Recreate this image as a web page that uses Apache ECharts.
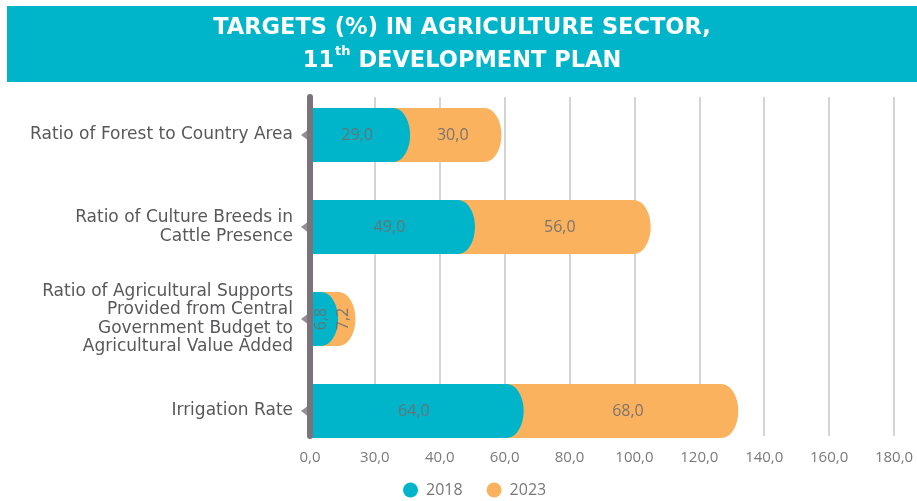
<!DOCTYPE html>
<html>
<head>
<meta charset="utf-8">
<script src="https://cdn.jsdelivr.net/npm/echarts@6/dist/echarts.min.js"></script>
<style>
html,body{margin:0;padding:0;background:#fff;}
#chart{width:917px;height:501px;}
</style>
</head>
<body>
<div id="chart"></div>
<script>
const categories = [
  'Ratio of Forest to Country Area',
  'Ratio of Culture Breeds in\nCattle Presence',
  'Ratio of Agricultural Supports\nProvided from Central\nGovernment Budget to\nAgricultural Value Added',
  'Irrigation Rate'
];
const values2018 = [29.0, 49.0, 6.8, 64.0];
const values2023 = [30.0, 56.0, 7.2, 68.0];
const seriesNames = ['2018', '2023'];
const xTickLabels = ['0,0', '30,0', '40,0', '60,0', '80,0', '100,0', '120,0', '140,0', '160,0', '180,0'];

const TEAL = '#00b5c9';
const ORANGE = '#fab25f';
const AXIS_GRAY = '#7a737b';
const BAR_RATIO = 0.587;
const CAP = 17;
const TEAL_EXT = 6;

function fmt(v) { return v.toFixed(1).replace('.', ','); }

// bar with a half-ellipse right end, clipped at the axis start
function capShape(x0, x1, cy, h, color, z2) {
  const cx = Math.max(x0, x1 - CAP);
  const rx = Math.max(1, x1 - cx);
  const ry = h / 2;
  const pts = [[x0, cy + ry], [x0, cy - ry]];
  const N = 24;
  for (let k = 0; k <= N; k++) {
    const t = -Math.PI / 2 + Math.PI * k / N;
    pts.push([cx + rx * Math.cos(t), cy + ry * Math.sin(t)]);
  }
  return [{ type: 'polygon', z2: z2, shape: { points: pts }, style: { fill: color } }];
}

function labelEl(x0, x1, cy, v) {
  const narrow = (x1 - x0) < 40;
  return {
    type: 'text', z2: 100,
    x: (x0 + x1) / 2, y: cy,
    rotation: narrow ? Math.PI / 2 : 0,
    style: {
      text: fmt(v), fill: '#6e6e6e', opacity: 0.9,
      fontFamily: 'Open Sans', fontSize: 16,
      align: 'center', verticalAlign: 'middle'
    }
  };
}

const barData = categories.map((c, i) => [values2018[i], i, values2023[i]]);

function renderOrange(params, api) {
  const a = api.value(0), i = api.value(1), b = api.value(2);
  const p0 = api.coord([0, i]);
  const pA = api.coord([a, i]);
  const pT = api.coord([a + b, i]);
  const h = api.size([0, 1])[1] * BAR_RATIO;
  return { type: 'group', children: capShape(p0[0], pT[0], p0[1], h, ORANGE, 0).concat([labelEl(pA[0], pT[0], p0[1], b)]) };
}
function renderTeal(params, api) {
  const a = api.value(0), i = api.value(1);
  const p0 = api.coord([0, i]);
  const pA = api.coord([a, i]);
  const h = api.size([0, 1])[1] * BAR_RATIO;
  return { type: 'group', children: capShape(p0[0], pA[0] + TEAL_EXT, p0[1], h, TEAL, 10).concat([labelEl(p0[0], pA[0], p0[1], a)]) };
}

const chart = echarts.init(document.getElementById('chart'), null, { renderer: 'canvas' });
chart.setOption({
  animation: false,
  backgroundColor: '#fff',
  graphic: [{
    type: 'rect', left: 7, top: 6, z: -10,
    shape: { width: 910, height: 76 },
    style: { fill: '#00b5c9' }
  }],
  title: {
    left: 462, top: 12, textAlign: 'center', padding: 0,
    text: '{b|TARGETS (%) IN AGRICULTURE SECTOR,}\n{b|11}{s|th}{b| DEVELOPMENT PLAN}',
    textStyle: {
      rich: {
        b: { color: '#fff', fontFamily: 'DejaVu Sans', fontWeight: 'bold', fontSize: 22.5, lineHeight: 33 },
        s: { color: '#fff', fontFamily: 'DejaVu Sans', fontWeight: 'bold', fontSize: 13, lineHeight: 33, verticalAlign: 'top', padding: [0, 0, 7, 1] }
      }
    }
  },
  legend: {
    data: seriesNames, left: 403, top: 482, padding: 0,
    icon: 'circle', itemWidth: 15, itemHeight: 15, itemGap: 24,
    textStyle: { color: '#777', fontFamily: 'Open Sans', fontSize: 16, padding: [0, 0, 0, 3] }
  },
  grid: [
    { left: 310, right: 23, top: 89, bottom: 44 },
    { left: 310, right: 23, top: 97, bottom: 65 }
  ],
  xAxis: [
    { gridIndex: 0, type: 'value', min: 0, max: 180, interval: 20, show: false },
    {
      gridIndex: 1, type: 'value', min: 0, max: 180, interval: 20,
      axisLine: { show: false }, axisTick: { show: false },
      splitLine: { show: true, lineStyle: { color: '#d4d4d4', width: 2 } },
      axisLabel: {
        margin: 14, color: '#7a7a7a', fontFamily: 'Open Sans', fontSize: 15,
        formatter: (v, idx) => xTickLabels[idx]
      }
    }
  ],
  yAxis: [
    {
      gridIndex: 0, type: 'category', data: categories, inverse: true,
      axisLine: { show: false }, axisTick: { show: false },
      axisLabel: { margin: 17, color: '#58585a', fontFamily: 'DejaVu Sans', fontSize: 17, lineHeight: 18.5, align: 'right' }
    },
    {
      gridIndex: 1, type: 'category', data: categories, inverse: true, offset: 1, z: 5,
      axisLine: { show: true, lineStyle: { color: AXIS_GRAY, width: 6, cap: 'round' } },
      axisTick: { show: false }, axisLabel: { show: false }
    }
  ],
  series: [
    {
      name: seriesNames[1], type: 'custom', xAxisIndex: 0, yAxisIndex: 0,
      itemStyle: { color: ORANGE }, encode: { x: 0, y: 1 },
      renderItem: renderOrange, data: barData
    },
    {
      name: seriesNames[0], type: 'custom', xAxisIndex: 0, yAxisIndex: 0,
      itemStyle: { color: TEAL }, encode: { x: 0, y: 1 },
      renderItem: renderTeal, data: barData
    },
    {
      type: 'scatter', xAxisIndex: 0, yAxisIndex: 0, clip: false, z: 6,
      symbol: 'triangle', symbolSize: [12, 8], symbolRotate: 90, symbolOffset: [-5, 0],
      itemStyle: { color: AXIS_GRAY }, silent: true,
      data: categories.map((c, i) => [0, i])
    }
  ]
});
</script>
</body>
</html>
